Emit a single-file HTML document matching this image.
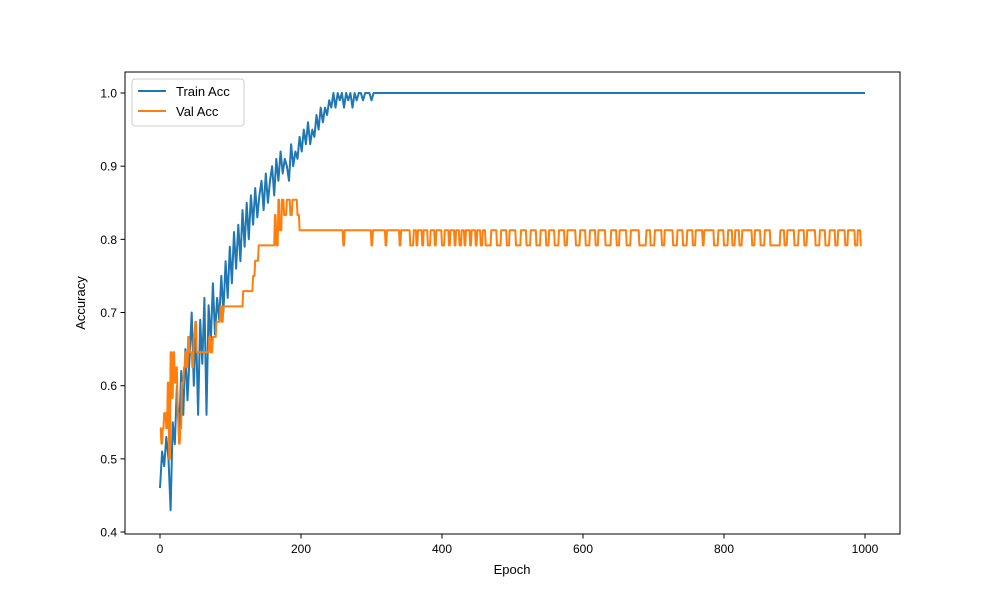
<!DOCTYPE html>
<html><head><meta charset="utf-8"><style>
body{margin:0;background:#fff}
svg{display:block;font-family:"Liberation Sans","DejaVu Sans",sans-serif}
</style></head><body>
<svg id="chart" width="1000" height="600" viewBox="0 0 1000 600">
<rect width="1000" height="600" fill="#fff"/>
<g id="plot"></g>
<rect x="125" y="72" width="775" height="462" fill="none" stroke="#000" stroke-width="1"/>
<g id="xticks"></g>
<g id="yticks"></g>
<text x="512" y="574" text-anchor="middle" font-size="13">Epoch</text>
<text transform="translate(85,303) rotate(-90)" text-anchor="middle" font-size="13">Accuracy</text>
<g>
<rect x="132" y="79" width="112" height="47" rx="3" fill="#fff" stroke="#ccc"/>
<g>
<line x1="138" y1="91" x2="166" y2="91" stroke="#1f77b4" stroke-width="2"/>
<text x="176" y="96" font-size="13">Train Acc</text></g>
<g>
<line x1="138" y1="111" x2="166" y2="111" stroke="#ff7f0e" stroke-width="2"/>
<text x="176" y="116" font-size="13">Val Acc</text></g>
</g>
</svg>
<script>
const xTicks=[0,200,400,600,800,1000];
const yTicks=[0.4,0.5,0.6,0.7,0.8,0.9,1.0];
const trainEpochs=[0,3,6,9,12,15,18,21,24,27,30,33,36,39,42,45,48,51,54,57,60,63,66,69,72,75,78,81,84,87,90,93,96,99,102,105,108,111,114,117,120,123,126,129,132,135,138,141,144,147,150,153,156,159,162,165,168,171,174,177,180,183,186,189,192,195,198,201,204,207,210,213,216,219,222,225,228,231,234,237,240,243,246,249,252,255,258,261,264,267,270,273,276,279,282,285,288,291,294,297,300,303,1000];
const trainAcc=[0.46,0.51,0.49,0.53,0.50,0.43,0.55,0.52,0.60,0.53,0.62,0.56,0.65,0.58,0.64,0.70,0.60,0.68,0.56,0.69,0.63,0.72,0.56,0.71,0.66,0.74,0.67,0.72,0.69,0.75,0.70,0.77,0.72,0.79,0.74,0.81,0.76,0.82,0.77,0.84,0.79,0.85,0.80,0.86,0.82,0.87,0.83,0.86,0.88,0.84,0.89,0.85,0.88,0.90,0.86,0.91,0.88,0.92,0.89,0.91,0.90,0.88,0.93,0.90,0.92,0.91,0.94,0.92,0.95,0.93,0.96,0.93,0.95,0.94,0.97,0.95,0.98,0.96,0.98,0.97,0.99,0.98,1.0,0.98,1.0,0.99,1.0,0.98,1.0,0.99,1.0,0.98,1.0,0.99,1.0,1.0,0.99,1.0,1.0,1.0,0.99,1.0,1.0];
const valEpochs=[0,2,4,6,9,11,13,15,17,19,21,23,25,27,29,31,34,36,38,40,42,44,46,48,50,52,70,72,75,80,86,88,90,118,132,135,140,163,165,168,170,173,176,180,185,188,195,198,260,262,300,302,320,322,340,342,355,360,364,366,372,374,380,384,390,392,400,404,410,412,418,420,425,428,432,434,440,442,448,450,455,458,462,470,478,484,492,496,505,512,520,526,534,540,548,552,560,566,574,578,590,596,604,610,618,622,632,640,648,652,662,668,680,690,696,702,712,716,728,734,742,748,756,760,770,772,786,792,800,806,812,816,822,826,840,844,852,858,866,880,886,890,900,906,914,918,930,936,944,950,958,962,972,976,986,990,994,996,1000];
const valAcc=[0.5417,0.5208,0.5417,0.5625,0.5417,0.6042,0.5,0.6458,0.5833,0.6458,0.6042,0.625,0.5625,0.5208,0.5417,0.6042,0.625,0.6458,0.625,0.6667,0.6458,0.6458,0.625,0.6667,0.6875,0.6458,0.6667,0.6458,0.6667,0.6875,0.7083,0.6875,0.7083,0.7292,0.75,0.7708,0.7917,0.8333,0.7917,0.8542,0.8125,0.8542,0.8333,0.8542,0.8333,0.8542,0.8333,0.8125,0.7917,0.8125,0.7917,0.8125,0.7917,0.8125,0.7917,0.8125,0.7917,0.8125,0.7917,0.8125,0.7917,0.8125,0.7917,0.8125,0.7917,0.8125,0.7917,0.8125,0.7917,0.8125,0.7917,0.8125,0.7917,0.8125,0.7917,0.8125,0.7917,0.8125,0.7917,0.8125,0.7917,0.8125,0.7917,0.8125,0.7917,0.8125,0.7917,0.8125,0.7917,0.8125,0.7917,0.8125,0.7917,0.8125,0.7917,0.8125,0.7917,0.8125,0.7917,0.8125,0.7917,0.8125,0.7917,0.8125,0.7917,0.8125,0.7917,0.8125,0.7917,0.8125,0.7917,0.8125,0.7917,0.8125,0.7917,0.8125,0.7917,0.8125,0.7917,0.8125,0.7917,0.8125,0.7917,0.8125,0.7917,0.8125,0.7917,0.8125,0.7917,0.8125,0.7917,0.8125,0.7917,0.8125,0.7917,0.8125,0.7917,0.8125,0.7917,0.8125,0.7917,0.8125,0.7917,0.8125,0.7917,0.8125,0.7917,0.8125,0.7917,0.8125,0.7917,0.8125,0.7917,0.8125,0.7917,0.8125,0.7917];
const NS='http://www.w3.org/2000/svg';
const xS=e=>160+e*0.705;
const yS=v=>93+(1-v)*731.7;
const plot=document.getElementById('plot');
function mk(tag,attrs,parent){const el=document.createElementNS(NS,tag);for(const k in attrs)el.setAttribute(k,attrs[k]);parent.appendChild(el);return el;}
const xg=document.getElementById('xticks');
xTicks.forEach(t=>{
 const l=mk('line',{x1:xS(t),x2:xS(t),y1:534,y2:538.5,stroke:'#000'},xg);
 
 
 const tx=mk('text',{x:xS(t),y:553,'text-anchor':'middle','font-size':'12'},xg);
 tx.textContent=t;
 
 
});
const yg=document.getElementById('yticks');
yTicks.forEach(t=>{
 const l=mk('line',{x1:120.5,x2:125,y1:yS(t),y2:yS(t),stroke:'#000'},yg);
 
 
 const tx=mk('text',{x:117,y:yS(t)+4.5,'text-anchor':'end','font-size':'12'},yg);
 tx.textContent=t.toFixed(1);
 
 
});
let d='';
trainEpochs.forEach((e,i)=>{d+=(i?'L':'M')+xS(e).toFixed(1)+' '+yS(trainAcc[i]).toFixed(1);});
const tp=mk('path',{d:d,fill:'none',stroke:'#1f77b4','stroke-width':'2','stroke-linejoin':'round'},plot);


let dv='';
valEpochs.forEach((e,i)=>{
 if(i===0){dv+='M'+xS(e).toFixed(1)+' '+yS(valAcc[0]).toFixed(1);}
 else{dv+='L'+xS(e-1).toFixed(1)+' '+yS(valAcc[i-1]).toFixed(1)+'L'+xS(e).toFixed(1)+' '+yS(valAcc[i]).toFixed(1);}
});
const vp=mk('path',{d:dv,fill:'none',stroke:'#ff7f0e','stroke-width':'2','stroke-linejoin':'round'},plot);


</script>
</body></html>
